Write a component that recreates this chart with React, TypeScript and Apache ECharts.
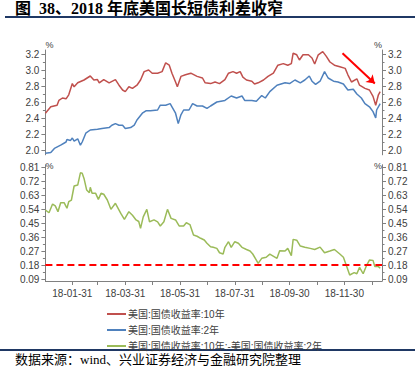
import React, { useEffect, useRef } from 'react';
import * as echarts from 'echarts';

const TITLE = '图  38、2018 年底美国长短债利差收窄';
const SOURCE = '数据来源：wind、兴业证券经济与金融研究院整理';
const NAME_10Y = '美国:国债收益率:10年';
const NAME_2Y = '美国:国债收益率:2年';
const NAME_SPREAD = '美国:国债收益率:10年:-美国:国债收益率:2年';

const yield10Dates = ['2018-01-01','2018-01-07','2018-01-14','2018-01-16','2018-01-20','2018-01-24','2018-01-27','2018-01-31','2018-02-02','2018-02-06','2018-02-13','2018-02-20','2018-02-24','2018-02-28','2018-03-02','2018-03-07','2018-03-13','2018-03-20','2018-03-24','2018-03-28','2018-03-31','2018-04-04','2018-04-08','2018-04-13','2018-04-17','2018-04-21','2018-04-26','2018-04-30','2018-05-06','2018-05-11','2018-05-15','2018-05-19','2018-05-22','2018-05-26','2018-05-28','2018-06-01','2018-06-06','2018-06-12','2018-06-19','2018-06-25','2018-06-28','2018-07-04','2018-07-09','2018-07-14','2018-07-20','2018-07-24','2018-07-29','2018-08-02','2018-08-06','2018-08-09','2018-08-13','2018-08-19','2018-08-22','2018-08-26','2018-09-01','2018-09-06','2018-09-12','2018-09-17','2018-09-23','2018-09-28','2018-10-02','2018-10-04','2018-10-08','2018-10-11','2018-10-15','2018-10-21','2018-10-25','2018-10-28','2018-11-01','2018-11-06','2018-11-10','2018-11-14','2018-11-19','2018-11-25','2018-12-01','2018-12-04','2018-12-08','2018-12-14','2018-12-17','2018-12-23','2018-12-28','2019-01-01','2019-01-04','2019-01-07','2019-01-09'];
const yield10Values = [2.46,2.54,2.56,2.62,2.65,2.64,2.69,2.83,2.79,2.84,2.875,2.925,2.875,2.88,2.84,2.88,2.84,2.88,2.81,2.75,2.73,2.79,2.77,2.81,2.875,2.98,3.0,2.96,2.96,2.98,3.09,3.06,2.96,2.85,2.79,2.92,2.94,2.96,2.92,2.9,2.84,2.83,2.85,2.83,2.88,2.96,2.98,2.96,2.98,2.91,2.875,2.86,2.825,2.84,2.875,2.92,2.96,3.06,3.08,3.06,3.08,3.21,3.19,3.125,3.19,3.19,3.15,3.075,3.19,3.23,3.17,3.1,3.06,3.04,3.02,2.94,2.85,2.89,2.81,2.77,2.75,2.67,2.56,2.69,2.73];

const yield2Dates = ['2018-01-01','2018-01-07','2018-01-11','2018-01-18','2018-01-24','2018-01-25','2018-01-29','2018-01-31','2018-02-02','2018-02-06','2018-02-09','2018-02-11','2018-02-15','2018-02-20','2018-02-28','2018-03-05','2018-03-13','2018-03-16','2018-03-20','2018-03-24','2018-03-28','2018-03-31','2018-04-06','2018-04-10','2018-04-13','2018-04-19','2018-04-23','2018-04-28','2018-05-06','2018-05-09','2018-05-15','2018-05-20','2018-05-22','2018-05-26','2018-05-29','2018-06-01','2018-06-04','2018-06-10','2018-06-14','2018-06-19','2018-06-25','2018-06-30','2018-07-04','2018-07-11','2018-07-20','2018-07-27','2018-08-02','2018-08-08','2018-08-11','2018-08-19','2018-08-24','2018-08-30','2018-09-03','2018-09-08','2018-09-16','2018-09-25','2018-09-30','2018-10-06','2018-10-12','2018-10-17','2018-10-22','2018-10-25','2018-10-29','2018-11-03','2018-11-08','2018-11-12','2018-11-18','2018-11-23','2018-11-29','2018-12-04','2018-12-10','2018-12-14','2018-12-19','2018-12-23','2018-12-28','2019-01-01','2019-01-04','2019-01-05','2019-01-09'];
const yield2Values = [1.96,1.97,2.02,2.06,2.1,2.13,2.12,2.15,2.11,2.14,2.06,2.1,2.21,2.25,2.26,2.27,2.28,2.31,2.33,2.31,2.31,2.27,2.28,2.31,2.375,2.46,2.49,2.49,2.5,2.56,2.56,2.58,2.54,2.46,2.33,2.44,2.5,2.5,2.58,2.55,2.55,2.52,2.55,2.6,2.62,2.675,2.65,2.675,2.62,2.62,2.61,2.68,2.65,2.73,2.81,2.84,2.83,2.875,2.84,2.875,2.925,2.86,2.82,2.86,2.98,2.9,2.86,2.85,2.825,2.75,2.76,2.7,2.65,2.58,2.54,2.48,2.4,2.5,2.58];

const spreadDates = ['2018-01-01','2018-01-05','2018-01-09','2018-01-12','2018-01-15','2018-01-18','2018-01-22','2018-01-25','2018-01-27','2018-01-30','2018-02-02','2018-02-06','2018-02-09','2018-02-11','2018-02-13','2018-02-16','2018-02-19','2018-02-20','2018-02-22','2018-02-26','2018-03-01','2018-03-04','2018-03-07','2018-03-11','2018-03-15','2018-03-20','2018-03-26','2018-03-30','2018-04-04','2018-04-08','2018-04-12','2018-04-15','2018-04-17','2018-04-20','2018-04-24','2018-04-27','2018-05-02','2018-05-06','2018-05-09','2018-05-13','2018-05-17','2018-05-21','2018-05-26','2018-05-30','2018-06-04','2018-06-07','2018-06-11','2018-06-15','2018-06-19','2018-06-23','2018-06-27','2018-06-30','2018-07-04','2018-07-07','2018-07-11','2018-07-14','2018-07-18','2018-07-20','2018-07-24','2018-07-27','2018-07-31','2018-08-04','2018-08-08','2018-08-13','2018-08-17','2018-08-20','2018-08-24','2018-08-26','2018-08-30','2018-09-04','2018-09-08','2018-09-16','2018-09-19','2018-09-25','2018-09-28','2018-10-02','2018-10-04','2018-10-08','2018-10-12','2018-10-17','2018-10-23','2018-10-28','2018-11-03','2018-11-08','2018-11-14','2018-11-19','2018-11-25','2018-11-29','2018-12-03','2018-12-06','2018-12-11','2018-12-14','2018-12-17','2018-12-21','2018-12-25','2018-12-28','2019-01-01','2019-01-03','2019-01-07','2019-01-09'];
const spreadValues = [0.534,0.516,0.572,0.56,0.523,0.58,0.58,0.545,0.587,0.598,0.688,0.694,0.773,0.77,0.737,0.662,0.645,0.68,0.641,0.641,0.602,0.641,0.635,0.598,0.538,0.577,0.512,0.474,0.523,0.5,0.47,0.46,0.416,0.49,0.538,0.458,0.47,0.458,0.431,0.458,0.538,0.48,0.47,0.431,0.431,0.452,0.44,0.373,0.365,0.352,0.341,0.32,0.298,0.294,0.287,0.259,0.251,0.294,0.33,0.294,0.33,0.32,0.294,0.28,0.27,0.251,0.212,0.191,0.223,0.23,0.25,0.223,0.272,0.27,0.287,0.24,0.345,0.34,0.302,0.295,0.287,0.28,0.295,0.259,0.27,0.28,0.251,0.23,0.165,0.116,0.131,0.124,0.165,0.124,0.18,0.212,0.21,0.17,0.17,0.159];

const REF_SPREAD = 0.18;
const arrowFrom = { date: '2018-11-28', value: 3.21 };
const arrowTo = { date: '2019-01-03', value: 2.83 };

const xStart = '2018-01-01';
const xEnd = '2019-01-11';
const monthEndTicks = ['2018-01-31','2018-02-28','2018-03-31','2018-04-30','2018-05-31','2018-06-30','2018-07-31','2018-08-31','2018-09-30','2018-10-31','2018-11-30','2018-12-31'];
const monthEndLabels = ['2018-01-31','2018-03-31','2018-05-31','2018-07-31','2018-09-30','2018-11-30'];

const yieldTickLabels = [2.0, 2.2, 2.4, 2.6, 2.8, 3.0, 3.2];
const yieldMinorTicks = [2.1, 2.3, 2.5, 2.7, 2.9, 3.1];
const yieldMin = 1.94;
const yieldMax = 3.25;

const spreadTickLabels = [0.09, 0.18, 0.27, 0.36, 0.45, 0.54, 0.63, 0.72, 0.81];
const spreadMinorTicks = [0.135, 0.225, 0.315, 0.405, 0.495, 0.585, 0.675, 0.765];
const spreadMin = 0.0774;
const spreadMax = 0.825;

const C_RED = '#C0504D';
const C_BLUE = '#4F81BD';
const C_GREEN = '#9BBB59';
const C_AXIS = '#808080';
const C_LABEL = '#404040';
const C_NAVY = '#1F3864';
const FONT = '"Liberation Sans", Arial, "Noto Sans CJK SC", sans-serif';
const SERIF = '"Liberation Serif", "Times New Roman", "Noto Sans CJK SC", serif';

const ts = (s: string) => {
  const [y, m, d] = s.split('-').map(Number);
  return Date.UTC(y, m - 1, d);
};
const pairs = (dates: string[], vals: number[]) => dates.map((d, i) => [ts(d), vals[i]]);
const fmtDate = (v: number) => {
  const dt = new Date(v);
  const p = (n: number) => String(n).padStart(2, '0');
  return `${String(dt.getUTCFullYear()).slice(2)}-${p(dt.getUTCMonth() + 1)}-${p(dt.getUTCDate())}`;
};

function makeYAxes(gridIndex: number, min: number, max: number, labels: number[], minors: number[], digits: number) {
  const axes: any[] = [];
  (['left', 'right'] as const).forEach((side) => {
    axes.push({
      type: 'value',
      gridIndex,
      position: side,
      min,
      max,
      name: '%',
      nameLocation: 'end',
      nameGap: gridIndex === 0 ? 1 : -6,
      nameTextStyle: {
        fontSize: 9,
        color: C_LABEL,
        fontFamily: FONT,
        align: side === 'left' ? 'left' : 'right',
        padding: 0,
      },
      axisLine: { show: true, lineStyle: { color: C_AXIS, width: 1 } },
      axisTick: { show: true, length: 4, customValues: labels, lineStyle: { color: C_AXIS } },
      axisLabel: {
        show: true,
        customValues: labels,
        margin: 6,
        fontSize: 10,
        color: C_LABEL,
        fontFamily: FONT,
        formatter: (v: number) => v.toFixed(digits),
      },
      splitLine: { show: false },
    });
    axes.push({
      type: 'value',
      gridIndex,
      position: side,
      min,
      max,
      axisLine: { show: false },
      axisTick: { show: true, length: 2.5, customValues: minors, lineStyle: { color: C_AXIS } },
      axisLabel: { show: false },
      splitLine: { show: false },
    });
  });
  return axes;
}

export default function App() {
  const ref = useRef<HTMLDivElement>(null);
  useEffect(() => {
    if (!ref.current) return;
    const chart = echarts.init(ref.current, undefined, { renderer: 'svg' });
    const xMin = ts(xStart);
    const xMax = ts(xEnd);
    const gridLeft = 45.4;
    const gridRight = 33;
    const option: any = {
      animation: false,
      backgroundColor: '#ffffff',
      grid: [
        { left: gridLeft, right: gridRight, top: 50, height: 104.8 },
        { left: gridLeft, right: gridRight, top: 164.7, height: 116.3 },
      ],
      xAxis: [
        { type: 'value', gridIndex: 0, min: xMin, max: xMax, show: false },
        {
          type: 'value',
          gridIndex: 1,
          min: xMin,
          max: xMax,
          axisLine: { show: true, lineStyle: { color: C_AXIS, width: 1 } },
          axisTick: { show: true, length: 4, customValues: monthEndTicks.map(ts), lineStyle: { color: C_AXIS } },
          axisLabel: {
            show: true,
            customValues: monthEndLabels.map(ts),
            margin: 7,
            fontSize: 10,
            color: C_LABEL,
            fontFamily: FONT,
            formatter: (v: number) => fmtDate(v),
            hideOverlap: false,
          },
          splitLine: { show: false },
        },
      ],
      yAxis: [
        ...makeYAxes(0, yieldMin, yieldMax, yieldTickLabels, yieldMinorTicks, 1),
        ...makeYAxes(1, spreadMin, spreadMax, spreadTickLabels, spreadMinorTicks, 2),
      ],
      legend: {
        orient: 'vertical',
        left: 107,
        top: 308,
        padding: 0,
        itemGap: 4,
        itemWidth: 19,
        itemHeight: 2,
        icon: 'rect',
        textStyle: { fontSize: 10, color: C_LABEL, fontFamily: FONT, lineHeight: 12, padding: [0, 0, 0, -3] },
        data: [NAME_10Y, NAME_2Y, NAME_SPREAD],
      },
      graphic: [
        {
          type: 'text',
          left: 15,
          top: 0,
          style: { text: TITLE, fontSize: 16, fontWeight: 'bold', fontFamily: SERIF, fill: '#000000' },
        },
        { type: 'rect', shape: { x: 5, y: 16, width: 410, height: 2 }, style: { fill: C_NAVY } },
        { type: 'rect', shape: { x: 0, y: 349, width: 415, height: 2 }, style: { fill: C_NAVY } },
        {
          type: 'text',
          left: 15,
          top: 353,
          style: { text: SOURCE, fontSize: 13, fontFamily: SERIF, fill: '#000000' },
        },
      ],
      series: [
        {
          name: NAME_10Y,
          type: 'line',
          xAxisIndex: 0,
          yAxisIndex: 0,
          data: pairs(yield10Dates, yield10Values),
          showSymbol: false,
          symbol: 'none',
          color: C_RED,
          lineStyle: { color: C_RED, width: 1.5 },
          markLine: {
            silent: true,
            symbol: ['none', 'arrow'],
            symbolSize: 8,
            label: { show: false },
            lineStyle: { color: '#FF0000', width: 2, type: 'solid' },
            data: [[
              { coord: [ts(arrowFrom.date), arrowFrom.value] },
              { coord: [ts(arrowTo.date), arrowTo.value] },
            ]],
          },
        },
        {
          name: NAME_2Y,
          type: 'line',
          xAxisIndex: 0,
          yAxisIndex: 0,
          data: pairs(yield2Dates, yield2Values),
          showSymbol: false,
          symbol: 'none',
          color: C_BLUE,
          lineStyle: { color: C_BLUE, width: 1.5 },
        },
        {
          name: NAME_SPREAD,
          type: 'line',
          xAxisIndex: 1,
          yAxisIndex: 4,
          data: pairs(spreadDates, spreadValues),
          showSymbol: false,
          symbol: 'none',
          color: C_GREEN,
          lineStyle: { color: C_GREEN, width: 1.5 },
          markLine: {
            silent: true,
            symbol: ['none', 'none'],
            label: { show: false },
            lineStyle: { color: '#FF0000', width: 2, type: [7, 4] },
            data: [{ yAxis: REF_SPREAD }],
          },
        },
      ],
    };
    chart.setOption(option);
    return () => chart.dispose();
  }, []);
  return (
    <div
      ref={ref}
      style={{ position: 'fixed', left: 0, top: 0, width: 415, height: 368, background: '#fff' }}
    />
  );
}
